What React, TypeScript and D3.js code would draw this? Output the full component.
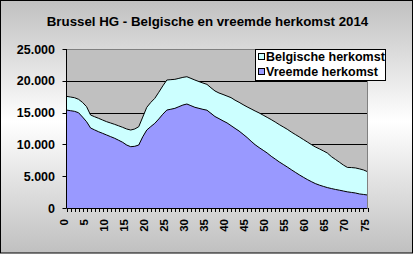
import React from "react";
import * as d3 from "d3";

const ages: number[] = Array.from({ length: 76 }, (_, i) => i);
const tickLabels: string[] = ["0","5","10","15","20","25","30","35","40","45","50","55","60","65","70","75"];
const yTicks: number[] = [0, 5000, 10000, 15000, 20000, 25000];

const vreemde: number[] = [
  15400, 15300, 15200, 14980, 14300, 13570, 12580, 12280, 11990, 11740,
  11480, 11220, 10960, 10650, 10330, 9900, 9640, 9700, 9900, 11200,
  12260, 12800, 13310, 14000, 14750, 15400, 15530, 15670, 15930, 16190,
  16350, 16090, 15830, 15670, 15510, 15380, 14880, 14380, 14050, 13700,
  13380, 12950, 12520, 12100, 11600, 11080, 10500, 9950, 9500, 9080,
  8650, 8140, 7700, 7250, 6850, 6450, 6030, 5620, 5220, 4840,
  4480, 4150, 3840, 3600, 3400, 3210, 3060, 2920, 2800, 2670,
  2540, 2450, 2360, 2210, 2130, 2040,
];

const belgische: number[] = [
  2160, 2150, 2140, 2110, 2300, 2360, 2040, 2070, 2110, 2090,
  2090, 2140, 2190, 2270, 2350, 2520, 2620, 2720, 2880, 3100,
  3570, 3800, 3930, 4200, 4450, 4720, 4650, 4560, 4450, 4350,
  4290, 4290, 4290, 4210, 4140, 4060, 4020, 4020, 4030, 4150,
  4220, 4400, 4430, 4520, 4650, 4820, 5080, 5300, 5450, 5520,
  5600, 5760, 5820, 5870, 5900, 5930, 5920, 5940, 5960, 5940,
  5900, 5830, 5760, 5700, 5580, 5430, 5020, 4720, 4400, 4080,
  3840, 3910, 3940, 3940, 3850, 3670,
];

const seriesNames: string[] = ["Belgische herkomst", "Vreemde herkomst"];
const seriesColors: string[] = ["#ccffff", "#9999ff"];
const title = "Brussel HG - Belgische en vreemde herkomst 2014";

const W = 415;
const H = 255;
const plot = { left: 66.5, right: 367.5, top: 49, bottom: 208 };
const font = "'Liberation Sans', Arial, sans-serif";

const fmt = (v: number) => (v === 0 ? "0" : d3.format(",")(v).replace(/,/g, "."));

export default function App() {
  const x = d3.scaleLinear().domain([0, 75]).range([plot.left, plot.right]);
  const y = d3.scaleLinear().domain([0, 25000]).range([plot.bottom, plot.top]);

  const rows = ages.map((a, i) => ({ a, v: vreemde[i], t: vreemde[i] + belgische[i] }));

  const areaV = d3.area<any>().x((d) => x(d.a)).y0(y(0)).y1((d) => y(d.v));
  const areaB = d3.area<any>().x((d) => x(d.a)).y0((d) => y(d.v)).y1((d) => y(d.t));
  const lineV = d3.line<any>().x((d) => x(d.a)).y((d) => y(d.v));
  const lineT = d3.line<any>().x((d) => x(d.a)).y((d) => y(d.t));

  return (
    <div style={{ position: "absolute", left: 0, top: 0, width: W, height: H, background: "#ffffff" }}>
      <svg width={W} height={H} style={{ display: "block" }}>
        <defs>
          <linearGradient id="bg" x1="0" y1="0" x2="0" y2="1">
            <stop offset="0" stopColor="#c0c0c0" />
            <stop offset="0.48" stopColor="#ffffff" />
            <stop offset="1" stopColor="#c0c0c0" />
          </linearGradient>
        </defs>
        <rect x={0.5} y={0.5} width={412} height={252.5} fill="url(#bg)" stroke="#000" strokeWidth={1} />

        <text x={207.5} y={26} textAnchor="middle" fontFamily={font} fontWeight="bold" fontSize={13.3} fill="#000">
          {title}
        </text>

        {/* plot area */}
        <rect x={plot.left} y={plot.top} width={plot.right - plot.left} height={plot.bottom - plot.top} fill="#c0c0c0" />
        {yTicks.filter((t) => t > 0 && t < 25000).map((t) => (
          <line key={t} x1={plot.left} x2={plot.right} y1={Math.round(y(t)) + 0.5} y2={Math.round(y(t)) + 0.5} stroke="#000" strokeWidth={1} />
        ))}

        <path d={areaB(rows) as string} fill={seriesColors[0]} />
        <path d={areaV(rows) as string} fill={seriesColors[1]} />
        <path d={lineT(rows) as string} fill="none" stroke="#000" strokeWidth={1} />
        <path d={lineV(rows) as string} fill="none" stroke="#000" strokeWidth={1} />

        {/* plot border top/right */}
        <line x1={plot.left} x2={plot.right} y1={plot.top + 0.5} y2={plot.top + 0.5} stroke="#808080" />
        <line x1={plot.right} x2={plot.right} y1={plot.top} y2={plot.bottom} stroke="#808080" />

        {/* y axis */}
        <line x1={plot.left} x2={plot.left} y1={plot.top} y2={plot.bottom} stroke="#000" />
        {yTicks.map((t) => (
          <g key={t}>
            <line x1={plot.left - 4} x2={plot.left} y1={Math.round(y(t)) + 0.5} y2={Math.round(y(t)) + 0.5} stroke="#000" />
            <text x={55} y={y(t)} dy="0.36em" textAnchor="end" fontFamily={font} fontWeight="bold" fontSize={12.5} fill="#000">
              {fmt(t)}
            </text>
          </g>
        ))}

        {/* x axis */}
        <line x1={plot.left} x2={plot.right} y1={plot.bottom + 0.5} y2={plot.bottom + 0.5} stroke="#000" />
        {ages.map((a) => (
          <line key={a} x1={Math.round(x(a)) + 0.5} x2={Math.round(x(a)) + 0.5} y1={plot.bottom} y2={plot.bottom + 4} stroke="#000" />
        ))}
        {tickLabels.map((l) => (
          <text
            key={l}
            transform={`translate(${x(+l) + 1},${plot.bottom + 11}) rotate(-90)`}
            textAnchor="end"
            fontFamily={font}
            fontWeight="bold"
            fontSize={11.5}
            fill="#000"
          >
            {l}
          </text>
        ))}

        {/* legend */}
        <rect x={255.5} y={49.5} width={130} height={31} fill="#fff" stroke="#000" />
        {seriesNames.map((n, i) => (
          <g key={n}>
            <rect x={258.5} y={53.5 + i * 15} width={6} height={6} fill={seriesColors[i]} stroke="#000" />
            <text x={266} y={61 + i * 15} fontFamily={font} fontWeight="bold" fontSize={12.5} fill="#000">
              {n}
            </text>
          </g>
        ))}
      </svg>
    </div>
  );
}
